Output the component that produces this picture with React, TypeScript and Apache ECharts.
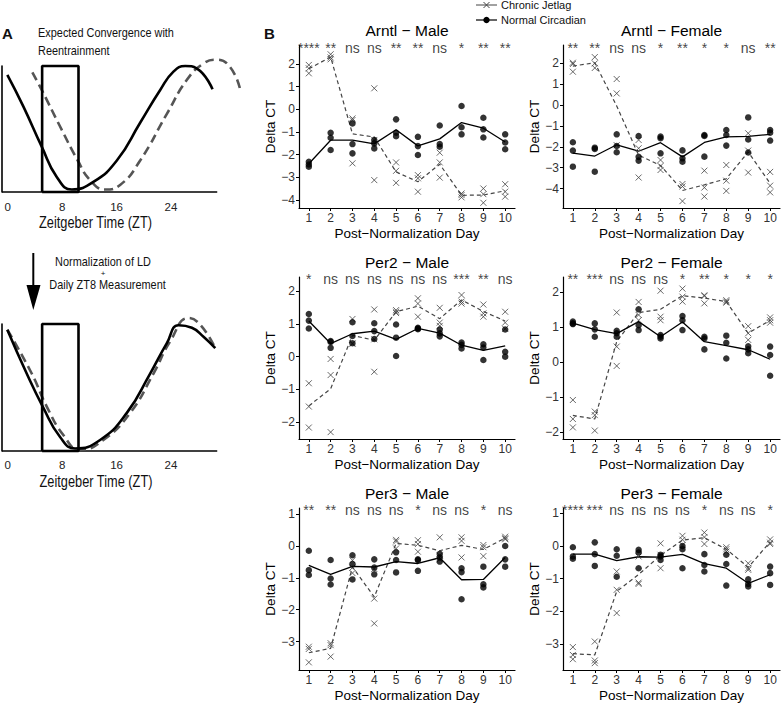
import React, { useEffect, useRef } from "react";
import * as echarts from "echarts";

// ---------- Data ----------
const DAYS = [1, 2, 3, 4, 5, 6, 7, 8, 9, 10];
const Y_TICKS_ARNTL = [-4, -3, -2, -1, 0, 1, 2];
const Y_TICKS_PER2 = [-2, -1, 0, 1, 2];
const Y_TICKS_PER3 = [-3, -2, -1, 0, 1];
const ZT_TICKS = [0, 8, 16, 24];
const ZT_AXIS_END = 30.81;

// Panel A schematic curves: [ZT, relative level]
const A_TOP_SOLID = [[-0.07, 0.93], [2.28, 0.68], [4.99, 0.36], [7.2, 0.12], [9.41, 0.02], [12.59, 0.08], [16.04, 0.25], [19.47, 0.55], [22.42, 0.81], [24.37, 0.955], [26.1, 1.0], [27.82, 0.98], [30.12, 0.815]];
const A_TOP_DASHED = [[3.61, 0.95], [4.99, 0.81], [7.69, 0.52], [10.29, 0.25], [12.11, 0.095], [14.31, 0.02], [16.52, 0.056], [19.47, 0.25], [23.4, 0.62], [26.35, 0.89], [28.79, 1.02], [30.66, 1.05], [32.72, 0.99], [34.2, 0.81]];
const A_BOTTOM_SOLID = [[-0.07, 0.955], [2.78, 0.61], [5.14, 0.35], [7.69, 0.11], [9.9, 0.02], [13.58, 0.087], [17.51, 0.3], [20.94, 0.61], [23.4, 0.85], [25.11, 0.99], [27.08, 0.97], [28.79, 0.9], [30.52, 0.81]];
const A_BOTTOM_DASHED = [[-0.07, 0.955], [3.52, 0.61], [5.73, 0.35], [8.17, 0.126], [10.63, 0.008], [14.06, 0.087], [18.0, 0.3], [21.43, 0.61], [23.89, 0.863], [26.58, 1.047], [28.31, 0.994], [30.52, 0.81]];
const BOX_ZT = [5.05, 10.4];

// Arntl - Male
const ARNTL_M_JET = [[1.96, 1.81, 1.59], [2.43, 2.29, 2.21], [-0.4, -0.47, -2.38], [0.93, -1.35, -3.12], [-2.34, -2.71, -3.24], [-2.9, -3.04, -3.63], [-1.91, -2.34, -3.01], [-3.71, -3.78, -3.88], [-3.49, -3.74, -4.12], [-3.3, -3.63, -3.85]];
const ARNTL_M_JET_MEAN = [1.79, 2.31, -1.08, -1.22, -2.76, -3.19, -2.42, -3.79, -3.78, -3.59];
const ARNTL_M_NORM = [[-2.31, -2.43, -2.53], [-1.03, -1.25, -1.79], [-0.62, -1.53, -1.94], [-1.35, -1.5, -1.72], [-0.44, -1.03, -1.18], [-1.21, -1.62, -2.01], [-0.71, -1.53, -1.65], [0.15, -0.79, -1.1], [-0.37, -0.88, -1.24], [-1.1, -1.46, -1.76]];
const ARNTL_M_NORM_MEAN = [-2.4, -1.36, -1.36, -1.52, -0.9, -1.61, -1.3, -0.58, -0.83, -1.44];
const ARNTL_M_SIG = ["****", "**", "ns", "ns", "**", "**", "ns", "*", "**", "**"];

// Arntl - Female
const ARNTL_F_JET = [[2.03, 1.97, 1.6], [2.3, 2.0, 1.78], [1.25, 0.56, -1.92], [-1.67, -2.07, -3.47], [-2.63, -2.92, -3.11], [-3.78, -3.9, -4.6], [-3.14, -3.95, -4.38], [-2.87, -3.62, -4.11], [-1.35, -2.18, -3.23], [-3.2, -3.86, -4.18]];
const ARNTL_F_JET_MEAN = [1.87, 2.03, -0.04, -2.4, -2.89, -4.09, -3.82, -3.53, -2.25, -3.75];
const ARNTL_F_NORM = [[-1.78, -2.18, -2.95], [-2.04, -2.1, -3.19], [-1.4, -1.96, -2.26], [-1.48, -2.48, -2.66], [-1.51, -1.59, -2.31], [-2.17, -2.55, -2.71], [-1.43, -1.48, -2.47], [-1.19, -1.43, -1.94], [-0.59, -1.65, -2.27], [-1.19, -1.32, -1.7]];
const ARNTL_F_NORM_MEAN = [-2.3, -2.44, -1.9, -2.21, -1.8, -2.48, -1.79, -1.52, -1.5, -1.4];
const ARNTL_F_SIG = ["**", "**", "ns", "ns", "*", "**", "*", "*", "ns", "**"];

// Per2 - Male
const PER2_M_JET = [[-0.81, -1.52, -2.16], [-0.07, -0.56, -2.3], [1.15, 0.41, 0.39], [1.44, 0.53, -0.46], [1.42, 1.37, 1.33], [1.78, 1.62, 1.22], [1.49, 1.04, 0.94], [1.88, 1.68, 1.62], [1.59, 1.32, 1.22], [1.37, 1.04, 0.85]];
const PER2_M_JET_MEAN = [-1.5, -0.98, 0.65, 0.5, 1.37, 1.54, 1.16, 1.73, 1.38, 1.09];
const PER2_M_NORM = [[1.3, 1.1, 0.86], [0.48, 0.45, 0.27], [1.05, 0.63, 0.41], [1.02, 0.78, 0.54], [0.98, 0.58, 0.02], [0.88, 0.86, 0.84], [0.83, 0.71, 0.62], [0.43, 0.36, 0.25], [0.38, 0.28, -0.1], [0.83, 0.15, 0.0]];
const PER2_M_NORM_MEAN = [1.09, 0.4, 0.7, 0.78, 0.53, 0.86, 0.72, 0.35, 0.19, 0.33];
const PER2_M_SIG = ["*", "ns", "ns", "ns", "ns", "ns", "ns", "***", "**", "ns"];

// Per2 - Female
const PER2_F_JET = [[-1.08, -1.62, -1.86], [-1.41, -1.51, -1.95], [1.41, 0.44, -0.11], [1.71, 1.34, 1.19], [2.03, 1.29, 1.19], [2.09, 1.86, 1.72], [1.9, 1.88, 1.67], [1.76, 1.72, 1.69], [1.02, 0.82, 0.63], [1.27, 1.19, 1.12]];
const PER2_F_JET_MEAN = [-1.52, -1.62, 0.58, 1.41, 1.5, 1.89, 1.82, 1.72, 0.82, 1.19];
const PER2_F_NORM = [[1.15, 1.1, 1.08], [1.1, 0.93, 0.72], [0.89, 0.82, 0.72], [1.5, 1.05, 0.91], [0.77, 0.72, 0.67], [1.31, 1.19, 0.91], [0.72, 0.67, 0.36], [0.75, 0.55, 0.1], [0.45, 0.36, 0.25], [0.44, 0.2, -0.39]];
const PER2_F_NORM_MEAN = [1.11, 0.92, 0.81, 1.15, 0.72, 1.14, 0.58, 0.47, 0.35, 0.08];
const PER2_F_SIG = ["**", "***", "ns", "ns", "ns", "*", "**", "*", "*", "*"];

// Per3 - Male
const PER3_M_JET = [[-3.16, -3.23, -3.65], [-3.05, -3.11, -3.47], [-0.45, -0.68, -0.85], [-0.72, -1.65, -2.43], [0.19, 0.14, -0.08], [0.18, 0.06, -0.18], [0.27, -0.3, -0.42], [0.27, 0.16, -0.36], [0.03, -0.04, -0.32], [0.29, 0.24, 0.21]];
const PER3_M_JET_MEAN = [-3.35, -3.21, -0.66, -1.6, 0.08, 0.02, -0.15, 0.02, -0.11, 0.25];
const PER3_M_NORM = [[-0.15, -0.76, -0.91], [-0.44, -1.02, -1.21], [-0.29, -0.57, -1.05], [-0.42, -0.68, -0.89], [-0.2, -0.44, -0.83], [-0.42, -0.44, -0.78], [-0.25, -0.36, -0.49], [-0.7, -0.82, -1.67], [-0.65, -1.2, -1.3], [0.0, -0.42, -0.65]];
const PER3_M_NORM_MEAN = [-0.61, -0.89, -0.64, -0.66, -0.49, -0.55, -0.37, -1.06, -1.05, -0.36];
const PER3_M_SIG = ["**", "**", "ns", "ns", "ns", "*", "ns", "ns", "*", "ns"];

// Per3 - Female
const PER3_F_JET = [[-3.09, -3.33, -3.46], [-2.92, -3.5, -3.58], [-0.78, -1.34, -2.05], [-0.32, -1.12, -1.16], [0.08, -0.27, -0.68], [0.31, 0.19, 0.03], [0.41, 0.27, 0.06], [-0.04, -0.1, -0.17], [-0.53, -0.68, -0.73], [0.2, 0.1, 0.06]];
const PER3_F_JET_MEAN = [-3.29, -3.33, -1.39, -0.87, -0.29, 0.18, 0.25, -0.1, -0.65, 0.12];
const PER3_F_NORM = [[-0.04, -0.32, -0.39], [0.11, -0.25, -0.61], [-0.1, -0.3, -0.94], [-0.12, -0.2, -0.68], [-0.27, -0.32, -0.43], [0.0, -0.1, -0.68], [-0.25, -0.58, -0.78], [-0.27, -0.55, -1.21], [-1.02, -1.16, -1.24], [-0.63, -0.83, -1.19]];
const PER3_F_NORM_MEAN = [-0.25, -0.25, -0.45, -0.33, -0.34, -0.26, -0.54, -0.68, -1.14, -0.88];
const PER3_F_SIG = ["****", "***", "ns", "ns", "ns", "ns", "*", "ns", "ns", "*"];

// ---------- Panels ----------
const PANELS = [
  { title: "Arntl − Male", jet: ARNTL_M_JET, jetMean: ARNTL_M_JET_MEAN, norm: ARNTL_M_NORM, normMean: ARNTL_M_NORM_MEAN, sig: ARNTL_M_SIG, ticks: Y_TICKS_ARNTL, min: -4.35, max: 2.84, sigY: 2.69 },
  { title: "Arntl − Female", jet: ARNTL_F_JET, jetMean: ARNTL_F_JET_MEAN, norm: ARNTL_F_NORM, normMean: ARNTL_F_NORM_MEAN, sig: ARNTL_F_SIG, ticks: Y_TICKS_ARNTL, min: -4.93, max: 2.88, sigY: 2.72 },
  { title: "Per2 − Male", jet: PER2_M_JET, jetMean: PER2_M_JET_MEAN, norm: PER2_M_NORM, normMean: PER2_M_NORM_MEAN, sig: PER2_M_SIG, ticks: Y_TICKS_PER2, min: -2.51, max: 2.43, sigY: 2.36 },
  { title: "Per2 − Female", jet: PER2_F_JET, jetMean: PER2_F_JET_MEAN, norm: PER2_F_NORM, normMean: PER2_F_NORM_MEAN, sig: PER2_F_SIG, ticks: Y_TICKS_PER2, min: -2.19, max: 2.42, sigY: 2.35 },
  { title: "Per3 − Male", jet: PER3_M_JET, jetMean: PER3_M_JET_MEAN, norm: PER3_M_NORM, normMean: PER3_M_NORM_MEAN, sig: PER3_M_SIG, ticks: Y_TICKS_PER3, min: -3.89, max: 1.19, sigY: 1.12 },
  { title: "Per3 − Female", jet: PER3_F_JET, jetMean: PER3_F_JET_MEAN, norm: PER3_F_NORM, normMean: PER3_F_NORM_MEAN, sig: PER3_F_SIG, ticks: Y_TICKS_PER3, min: -3.79, max: 1.16, sigY: 1.1 },
];

const LAYOUT = [
  { left: 299, top: 45, width: 216, height: 163 },
  { left: 563, top: 45, width: 217, height: 163 },
  { left: 299, top: 277, width: 216, height: 162 },
  { left: 563, top: 277, width: 217, height: 162 },
  { left: 299, top: 508, width: 216, height: 162 },
  { left: 563, top: 508, width: 217, height: 162 },
];

const SANS = "Liberation Sans, Arial, Helvetica, sans-serif";
const CROSS = "path://M0,0L10,10M10,0L0,10";
const minus = (v: any) => String(v).replace("-", "−");

function buildOption() {
  const grid: any[] = [];
  const xAxis: any[] = [];
  const yAxis: any[] = [];
  const series: any[] = [];
  const graphic: any[] = [];

  // ----- Panel A grids (x range extended so curves may run past the drawn axis line) -----
  const aGrids = [
    { left: 2, top: 66, width: 241, height: 126, solid: A_TOP_SOLID, dashed: A_TOP_DASHED, labelMargin: 9 },
    { left: 2, top: 324, width: 241, height: 127, solid: A_BOTTOM_SOLID, dashed: A_BOTTOM_DASHED, labelMargin: 8 },
  ];
  aGrids.forEach((g, i) => {
    grid.push({ left: g.left, top: g.top, width: g.width, height: g.height, containLabel: false, outerBoundsMode: "none" });
    xAxis.push({
      type: "value", gridIndex: i, min: -0.854, max: 34.6,
      axisLine: { show: false, onZero: false },
      axisTick: { show: false },
      splitLine: { show: false },
      axisLabel: { customValues: ZT_TICKS, fontSize: 11.5, fontFamily: SANS, color: "#222", margin: g.labelMargin },
    });
    yAxis.push({
      type: "value", gridIndex: i, min: 0, max: 1,
      axisLine: { show: true, onZero: false, lineStyle: { color: "#000", width: 1.6 } },
      axisTick: { show: false }, axisLabel: { show: false }, splitLine: { show: false },
    });
    // x axis baseline (ends at ZT ~30.8 like the schematic)
    series.push({
      type: "line", xAxisIndex: i, yAxisIndex: i, data: [[-0.854, 0], [ZT_AXIS_END, 0]],
      showSymbol: false, symbol: "none", lineStyle: { color: "#000", width: 1.6 }, clip: false, silent: true, z: 1,
    });
    series.push({
      type: "line", xAxisIndex: i, yAxisIndex: i, data: [[BOX_ZT[0], 0], [BOX_ZT[0], 1], [BOX_ZT[1], 1], [BOX_ZT[1], 0], [BOX_ZT[0], 0]],
      showSymbol: false, symbol: "none", lineStyle: { color: "#000", width: 2.6 }, clip: false, silent: true, z: 3,
    });
    series.push({
      type: "line", xAxisIndex: i, yAxisIndex: i, data: g.dashed, smooth: 0.5,
      showSymbol: false, symbol: "none", lineStyle: { color: "#555", width: 2.6, type: [9, 5] }, clip: false, z: 2,
    });
    series.push({
      type: "line", xAxisIndex: i, yAxisIndex: i, data: g.solid, smooth: 0.5,
      showSymbol: false, symbol: "none", lineStyle: { color: "#000", width: 2.6 }, clip: false, z: 4,
    });
  });

  // ----- Panel B grids -----
  PANELS.forEach((p, k) => {
    const idx = k + 2;
    const L = LAYOUT[k];
    grid.push({ left: L.left, top: L.top, width: L.width, height: L.height, containLabel: false, outerBoundsMode: "none" });
    xAxis.push({
      type: "value", gridIndex: idx, min: 0.55, max: 10.45,
      axisLine: { show: true, onZero: false, lineStyle: { color: "#000", width: 1.2 } },
      axisTick: { show: true, length: 3, customValues: DAYS, lineStyle: { color: "#000", width: 1 } },
      axisLabel: { customValues: DAYS, fontSize: 12, fontFamily: SANS, color: "#333", margin: 4 },
      splitLine: { show: false },
      name: "Post−Normalization Day", nameLocation: "middle", nameGap: 18,
      nameTextStyle: { fontSize: 13.5, fontFamily: SANS, color: "#000" },
    });
    yAxis.push({
      type: "value", gridIndex: idx, min: p.min, max: p.max,
      axisLine: { show: true, onZero: false, lineStyle: { color: "#000", width: 1.2 } },
      axisTick: { show: true, length: 3, customValues: p.ticks, lineStyle: { color: "#000", width: 1 } },
      axisLabel: { customValues: p.ticks, fontSize: 12, fontFamily: SANS, color: "#333", margin: 4, formatter: minus },
      splitLine: { show: false },
      name: "Delta CT", nameLocation: "middle", nameGap: 22, nameRotate: 90,
      nameTextStyle: { fontSize: 13.5, fontFamily: SANS, color: "#000" },
    });
    const jetPts: number[][] = [];
    p.jet.forEach((vals, i) => vals.forEach((v) => jetPts.push([DAYS[i], v])));
    const normPts: number[][] = [];
    p.norm.forEach((vals, i) => vals.forEach((v) => normPts.push([DAYS[i], v])));
    series.push({
      type: "line", xAxisIndex: idx, yAxisIndex: idx, data: DAYS.map((d, i) => [d, p.jetMean[i]]),
      showSymbol: false, symbol: "none", lineStyle: { color: "#444", width: 1.2, type: [4, 3] }, z: 2,
    });
    series.push({
      type: "line", xAxisIndex: idx, yAxisIndex: idx, data: DAYS.map((d, i) => [d, p.normMean[i]]),
      showSymbol: false, symbol: "none", lineStyle: { color: "#000", width: 1.3 }, z: 2,
    });
    series.push({
      type: "scatter", xAxisIndex: idx, yAxisIndex: idx, data: jetPts, symbol: CROSS, symbolSize: 6,
      itemStyle: { color: "rgba(0,0,0,0)", borderColor: "#444", borderWidth: 1 }, z: 3,
    });
    series.push({
      type: "scatter", xAxisIndex: idx, yAxisIndex: idx, data: normPts, symbol: "circle", symbolSize: 6.5,
      itemStyle: { color: "#000" }, z: 4,
    });
    series.push({
      type: "scatter", xAxisIndex: idx, yAxisIndex: idx,
      data: p.sig.map((s, i) => ({ value: [DAYS[i], p.sigY], name: s })),
      symbolSize: 1, itemStyle: { color: "rgba(0,0,0,0)" }, clip: false, silent: true,
      label: { show: true, position: "inside", formatter: (q: any) => q.name, fontSize: 14, fontFamily: SANS, color: "#111" },
      z: 5,
    });
    graphic.push({
      type: "text", x: L.left + L.width / 2, y: L.top - 15,
      style: { text: p.title, font: `15.5px ${SANS}`, fill: "#000", textAlign: "center", textVerticalAlign: "middle", align: "center", verticalAlign: "middle" },
    });
  });

  // ----- Labels, annotations, legend -----
  const txt = (text: string, x: number, y: number, font: string, align = "left", scaleX = 1) => ({
    type: "text", x, y, scaleX,
    style: { text, font, fill: "#111", textAlign: align, textVerticalAlign: "middle", align, verticalAlign: "middle" },
  });
  graphic.push(txt("A", 2, 33, `bold 15px ${SANS}`));
  graphic.push(txt("B", 264, 33, `bold 15px ${SANS}`));
  graphic.push(txt("Expected Convergence with", 38, 33, `13px ${SANS}`, "left", 0.84));
  graphic.push(txt("Reentrainment", 38, 51, `13px ${SANS}`, "left", 0.84));
  graphic.push(txt("Zeitgeber Time (ZT)", 95.5, 222, `16px ${SANS}`, "center", 0.8));
  graphic.push(txt("Normalization of LD", 103, 262, `13px ${SANS}`, "center", 0.84));
  graphic.push(txt("+", 103, 273, `8px ${SANS}`, "center"));
  graphic.push(txt("Daily ZT8 Measurement", 107.5, 284.5, `13px ${SANS}`, "center", 0.84));
  graphic.push(txt("Zeitgeber Time (ZT)", 96, 481, `16px ${SANS}`, "center", 0.8));
  // arrow
  graphic.push({ type: "line", shape: { x1: 33.3, y1: 253, x2: 33.3, y2: 290 }, style: { stroke: "#000", lineWidth: 2 } });
  graphic.push({ type: "polygon", shape: { points: [[26.5, 285], [40.5, 285], [33.3, 310]] }, style: { fill: "#000" } });
  // legend
  graphic.push({ type: "line", shape: { x1: 476, y1: 5, x2: 497, y2: 5 }, style: { stroke: "#444", lineWidth: 1 } });
  graphic.push({ type: "line", shape: { x1: 483.5, y1: 2, x2: 489.5, y2: 8 }, style: { stroke: "#444", lineWidth: 1 } });
  graphic.push({ type: "line", shape: { x1: 489.5, y1: 2, x2: 483.5, y2: 8 }, style: { stroke: "#444", lineWidth: 1 } });
  graphic.push({ type: "line", shape: { x1: 476, y1: 20, x2: 497, y2: 20 }, style: { stroke: "#000", lineWidth: 1.2 } });
  graphic.push({ type: "circle", shape: { cx: 486.5, cy: 20, r: 3.2 }, style: { fill: "#000" } });
  graphic.push(txt("Chronic Jetlag", 501, 5, `11px ${SANS}`));
  graphic.push(txt("Normal Circadian", 501, 20, `11px ${SANS}`));

  return {
    animation: false,
    backgroundColor: "#fff",
    grid, xAxis, yAxis, series, graphic,
  };
}

export default function App() {
  const ref = useRef<HTMLDivElement>(null);
  useEffect(() => {
    document.body.style.margin = "0";
    if (!ref.current) return;
    const chart = echarts.init(ref.current, undefined, { renderer: "svg" });
    chart.setOption(buildOption() as any);
    return () => chart.dispose();
  }, []);
  return <div ref={ref} style={{ width: 781, height: 703 }} />;
}
